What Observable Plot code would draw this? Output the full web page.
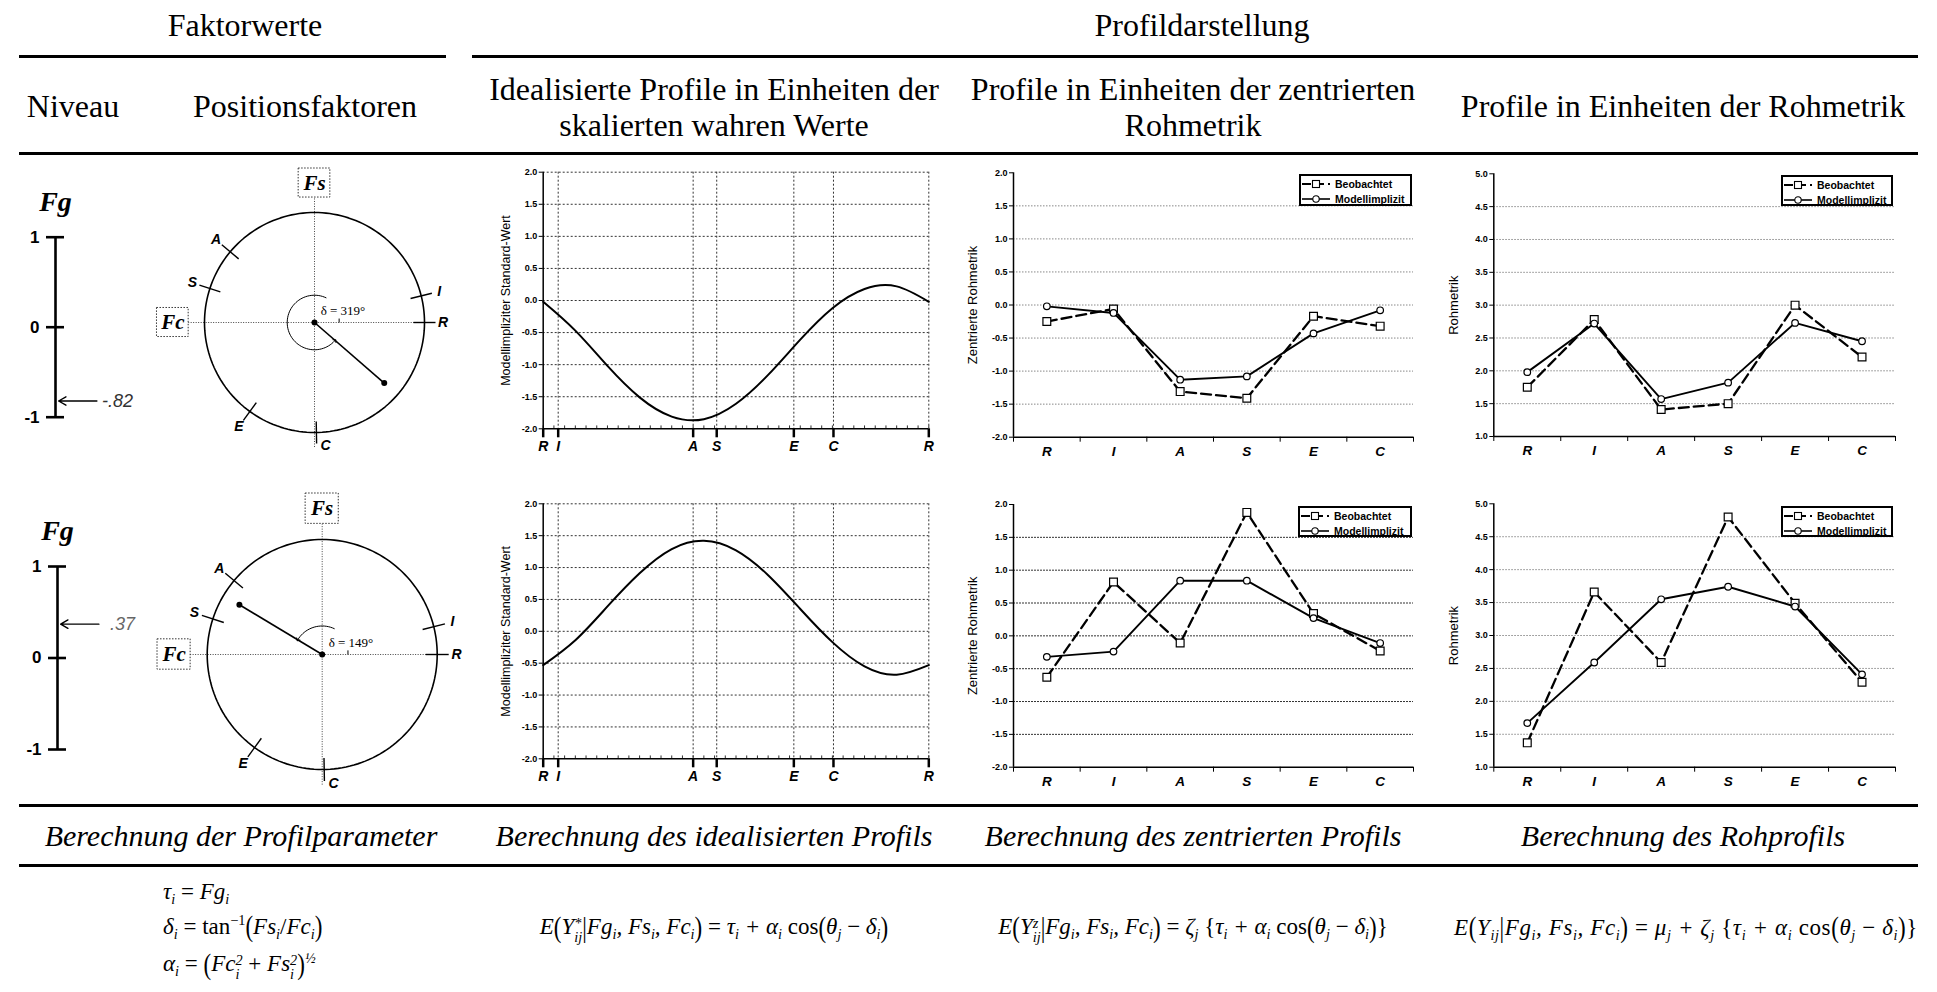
<!DOCTYPE html>
<html>
<head>
<meta charset="utf-8">
<script src="https://cdn.jsdelivr.net/npm/d3@7"></script>
<script src="https://cdn.jsdelivr.net/npm/@observablehq/plot@0.6"></script>
<style>
  body { margin: 0; background: #fff; }
  #root { position: relative; width: 1937px; height: 992px; overflow: hidden; background: #fff;
          font-family: "Liberation Serif", "Times New Roman", serif; color: #000; }
  .hline { position: absolute; height: 3px; background: #000; }
  .hd { position: absolute; font-size: 32px; white-space: nowrap; transform: translate(-50%, -50%);
        text-align: center; line-height: 36px; }
  .ft { position: absolute; font-size: 30px; font-style: italic; white-space: nowrap; transform: translate(-50%, -50%); }
  .fm { position: absolute; font-size: 23px; font-style: italic; white-space: nowrap; line-height: 32px; }
  .fm.c { transform: translate(-50%, -50%); }
  .fm.l { transform: translate(0, -50%); }
  .fm.w { letter-spacing: 0.6px; }
  .fm sub { font-size: 62%; vertical-align: -0.35em; line-height: 0; }
  .fm sup { font-size: 62%; vertical-align: 0.6em; line-height: 0; }
  .fm .up { font-style: normal; }
  .fm .ss { display: inline-flex; flex-direction: column; font-size: 62%; line-height: 1.0; vertical-align: 0.45em; }
  .fm .bp { display: inline-block; transform: scale(1, 1.3); font-style: normal; }
  .legend { position: absolute; border: 2px solid #000; background: #fff; box-sizing: border-box;
            font-family: "Liberation Sans", Arial, sans-serif; font-weight: bold; font-size: 10.5px; }
  .legend .row { position: absolute; left: 1px; height: 12px; display: flex; align-items: center; white-space: nowrap; }
  .legend svg { display: block; margin-right: 5px; }
</style>
</head>
<body>
<div id="root"></div>
<script>
// ---------------- data ----------------
const cats = ["R", "I", "A", "S", "E", "C"];
const thetaDeg = [0, 14, 140, 162, 234, 271];          // RIASEC positions (degrees)
const fgValues = [-0.82, 0.37];                         // Niveau Fg
const deltaDeg = [319, 149];                            // angle delta
const alphaValues = [1.05, 1.05];                       // amplitude
const fgTicks = [-1, 0, 1];

// idealised profile curves, every 30 degrees
const curveTheta = [0, 30, 60, 90, 120, 150, 180, 210, 240, 270, 300, 330, 360];
const curveRow1 = [-0.02, -0.47, -1.02, -1.51, -1.81, -1.85, -1.61, -1.16, -0.61, -0.12, 0.18, 0.22, -0.02];
const curveRow2 = [-0.53, -0.14, 0.39, 0.91, 1.29, 1.42, 1.27, 0.88, 0.35, -0.17, -0.55, -0.68, -0.53];

// centred raw metric
const zObs1 = [-0.25, -0.06, -1.31, -1.41, -0.17, -0.32];
const zMod1 = [-0.02, -0.12, -1.13, -1.08, -0.43, -0.08];
const zObs2 = [-0.63, 0.82, -0.11, 1.88, 0.34, -0.23];
const zMod2 = [-0.32, -0.24, 0.84, 0.84, 0.27, -0.11];
// raw metric
const rawObs1 = [1.75, 2.78, 1.41, 1.50, 3.00, 2.21];
const rawMod1 = [1.98, 2.72, 1.57, 1.82, 2.73, 2.45];
const rawObs2 = [1.37, 3.66, 2.59, 4.80, 3.49, 2.29];
const rawMod2 = [1.67, 2.59, 3.55, 3.74, 3.44, 2.41];

const zTicks = [-2, -1.5, -1, -0.5, 0, 0.5, 1, 1.5, 2];
const zGrid = [-1.5, -1, -0.5, 0, 0.5, 1, 1.5];
const rawTicks = [1, 1.5, 2, 2.5, 3, 3.5, 4, 4.5, 5];
const rawGrid = [1.5, 2, 2.5, 3, 3.5, 4, 4.5];
const sineGrid = [-1.5, -1, -0.5, 0, 0.5, 1, 1.5, 2];
const seriesNames = ["Beobachtet", "Modellimplizit"];
const yLabels = ["Modellimpliziter Standard-Wert", "Zentrierte Rohmetrik", "Rohmetrik"];

// ---------------- helpers ----------------
const root = document.getElementById("root");
const SANS = "Liberation Sans, Arial, sans-serif";
const SERIF = "Liberation Serif, Times New Roman, serif";
const f1 = d => d.toFixed(1);
const rad = a => a * Math.PI / 180;
function put(node, left, top) {
  node.style.position = "absolute";
  node.style.left = left + "px";
  node.style.top = top + "px";
  root.appendChild(node);
}
function html(cls, left, top, inner) {
  const d = document.createElement("div");
  d.className = cls;
  d.innerHTML = inner;
  put(d, left, top);
  return d;
}
const baseStyle = {background: "transparent", overflow: "visible", fontFamily: SANS, color: "#000"};

// ---------------- header / lines ----------------
function hline(x1, x2, y) {
  const d = document.createElement("div");
  d.className = "hline";
  d.style.width = (x2 - x1) + "px";
  put(d, x1, y - 1.5);
}
hline(19, 446, 56);
hline(472, 1918, 56);
hline(19, 1918, 153);
hline(19, 1918, 805);
hline(19, 1918, 865);

html("hd", 245, 25, "Faktorwerte");
html("hd", 1202, 25, "Profildarstellung");
html("hd", 73, 106, "Niveau");
html("hd", 305, 106, "Positionsfaktoren");
html("hd", 714, 107, "Idealisierte Profile in Einheiten der<br>skalierten wahren Werte");
html("hd", 1193, 107, "Profile in Einheiten der zentrierten<br>Rohmetrik");
html("hd", 1683, 106, "Profile in Einheiten der Rohmetrik");

html("ft", 241, 836, "Berechnung der Profilparameter");
html("ft", 714, 836, "Berechnung des idealisierten Profils");
html("ft", 1193, 836, "Berechnung des zentrierten Profils");
html("ft", 1683, 836, "Berechnung des Rohprofils");

// ---------------- formulas ----------------
const ii = '<sub>i</sub>', jj = '<sub>j</sub>';
const cond = 'Fg' + ii + ', Fs' + ii + ', Fc' + ii;
const core = 'τ' + ii + ' + α' + ii + ' <span class="up">cos</span><span class="bp">(</span>θ' + jj + ' <span class="up">−</span> δ' + ii + '<span class="bp">)</span>';
html("fm l", 163, 892, 'τ' + ii + ' <span class="up">=</span> Fg' + ii);
html("fm l", 163, 927, 'δ' + ii + ' <span class="up">= tan<sup>−1</sup></span><span class="bp">(</span>Fs' + ii + '<span class="up">/</span>Fc' + ii + '<span class="bp">)</span>');
html("fm l", 163, 965, 'α' + ii + ' <span class="up">=</span> <span class="bp">(</span>Fc<span class="ss"><span>2</span><span>i</span></span> <span class="up">+</span> Fs<span class="ss"><span>2</span><span>i</span></span><span class="bp">)</span><sup>½</sup>');
html("fm c", 714, 928, 'E<span class="bp">(</span>Y<span class="ss"><span>*</span><span>ij</span></span><span class="bp">|</span>' + cond + '<span class="bp">)</span> <span class="up">=</span> ' + core);
html("fm c", 1193, 928, 'E<span class="bp">(</span>Y<span class="ss"><span>z</span><span>ij</span></span><span class="bp">|</span>' + cond + '<span class="bp">)</span> <span class="up">=</span> ζ' + jj + ' <span class="up">{</span>' + core + '<span class="up">}</span>');
html("fm c w", 1686, 928, 'E<span class="bp">(</span>Y<sub>ij</sub><span class="bp">|</span>' + cond + '<span class="bp">)</span> <span class="up">=</span> μ' + jj + ' + ζ' + jj + ' <span class="up">{</span>' + core + '<span class="up">}</span>');

// ---------------- Fg scale ----------------
function fgChart(k, left, top, height, mLeft, mTop, mBottom, labDx, labColor) {
  const fg = fgValues[k];
  const fmt = d => (d < 0 ? "-" : "") + Math.abs(d).toFixed(2).replace(/^0/, "");
  const svg = Plot.plot({
    width: 150, height, marginLeft: mLeft, marginRight: 150 - mLeft - 18, marginTop: mTop, marginBottom: mBottom,
    x: {domain: [-1, 1], axis: null}, y: {domain: [-1, 1], axis: null},
    style: baseStyle,
    marks: [
      Plot.ruleX([0], {y1: -1, y2: 1, strokeWidth: 2.6}),
      Plot.ruleY(fgTicks, {x1: -1, x2: 1, strokeWidth: 2.6}),
      Plot.text(fgTicks, {x: -1, y: d => d, text: d => String(d), dx: -7, textAnchor: "end",
        fontWeight: "bold", fontSize: 17, fontFamily: SANS}),
      Plot.arrow([fg], {x1: 4.6, y1: d => d, x2: 0.35, y2: d => d, strokeWidth: 1.4, headLength: 9}),
      Plot.text([fg], {x: 4.6, y: d => d, text: fmt, dx: labDx, textAnchor: "start",
        fontStyle: "italic", fontSize: 18, fontFamily: SANS, fill: labColor}),
      Plot.text(["Fg"], {x: 0, y: 1, text: d => d, dy: -35, fontFamily: SERIF, fontWeight: "bold",
        fontStyle: "italic", fontSize: 28})
    ]
  });
  put(svg, left, top);
}
fgChart(0, 0, 170, 270, 46, 66.7, 23.3, 5, "#333");
fgChart(1, 0, 490, 280, 48, 76, 21, 11, "#666");

// ---------------- circles ----------------
function circleChart(k, left, top, width, height, mL, mR, mT, mB) {
  const R = 1.25;
  const ring = d3.range(0, 361, 2).map(a => [R * Math.cos(rad(a)), R * Math.sin(rad(a))]);
  const dd = deltaDeg[k], a = alphaValues[k];
  const arcR = 0.31;
  const arcPts = d3.range(65, dd, 4).map(t => [arcR * Math.cos(rad(t)), arcR * Math.sin(rad(t))]);
  arcPts.push([arcR * Math.cos(rad(dd)), arcR * Math.sin(rad(dd))]);
  const pts = cats.map((c, i) => ({c, t: rad(thetaDeg[i])}));
  const boxes = [{name: "Fs", x: 0, y: 1.585}, {name: "Fc", x: -1.61, y: 0}];
  const tip = [a * Math.cos(rad(dd)), a * Math.sin(rad(dd))];
  const svg = Plot.plot({
    width, height, marginLeft: mL, marginRight: mR, marginTop: mT, marginBottom: mB,
    x: {domain: [-1, 1], axis: null}, y: {domain: [-1, 1], axis: null},
    style: baseStyle,
    marks: [
      Plot.ruleY([0], {x1: -1.43, x2: 1.25, stroke: "#444", strokeDasharray: "1,1.5"}),
      Plot.ruleX([0], {y1: -1.42, y2: 1.42, stroke: "#444", strokeDasharray: "1,1.5"}),
      Plot.line(ring, {strokeWidth: 1.6}),
      Plot.link(pts, {x1: d => 1.125 * Math.cos(d.t), y1: d => 1.125 * Math.sin(d.t),
        x2: d => 1.375 * Math.cos(d.t), y2: d => 1.375 * Math.sin(d.t), strokeWidth: 1.4}),
      Plot.text(pts.filter(d => d.c !== "C"), {x: d => 1.46 * Math.cos(d.t), y: d => 1.46 * Math.sin(d.t),
        text: "c", fontWeight: "bold", fontStyle: "italic", fontSize: 14, fontFamily: SANS}),
      Plot.text(pts.filter(d => d.c === "C"), {x: d => 1.4 * Math.cos(d.t), y: d => 1.4 * Math.sin(d.t),
        text: "c", dx: 9, fontWeight: "bold", fontStyle: "italic", fontSize: 14, fontFamily: SANS}),
      Plot.rect(boxes, {x1: d => d.x - 0.18, x2: d => d.x + 0.18, y1: d => d.y - 0.165, y2: d => d.y + 0.165,
        fill: "white", stroke: "#333", strokeDasharray: "1.5,1.5"}),
      Plot.text(boxes, {x: "x", y: "y", text: "name", fontFamily: SERIF, fontWeight: "bold",
        fontStyle: "italic", fontSize: 21}),
      Plot.line(arcPts, {strokeWidth: 1, markerEnd: "arrow"}),
      Plot.link([tip], {x1: 0, y1: 0, x2: d => d[0], y2: d => d[1], strokeWidth: 1.6}),
      Plot.dot([[0, 0], tip], {r: 3, fill: "black"}),
      Plot.text([`δ = ${dd}°`], {x: 0.07, y: 0.13, text: d => d, textAnchor: "start",
        fontFamily: SERIF, fontSize: 13}),
      Plot.link([0], {x1: 0.28, x2: 0.28, y1: 0, y2: 0.045, strokeWidth: 1})
    ]
  });
  put(svg, left, top);
}
circleChart(0, 150, 160, 320, 300, 76, 68, 74, 50);
circleChart(1, 150, 480, 320, 320, 79.7, 56.3, 82, 54);

// ---------------- idealised sine profiles ----------------
const thetaTicks = [...thetaDeg, 360];
const tickLab = new Map(thetaTicks.map((t, i) => [t, i < cats.length ? cats[i] : cats[0]]));
const minorTicks = d3.range(0, 361, 10);
function sineChart(k, top, mT, mB) {
  const vals = k === 0 ? curveRow1 : curveRow2;
  const data = curveTheta.map((t, i) => ({t, v: vals[i]}));
  const svg = Plot.plot({
    width: 470, height: 320, marginLeft: 62.7, marginRight: 21.7, marginTop: mT, marginBottom: mB,
    x: {domain: [0, 360], axis: null}, y: {domain: [-2, 2], axis: null},
    style: baseStyle,
    marks: [
      Plot.ruleY(sineGrid, {stroke: "#333", strokeDasharray: "2,2", strokeWidth: 1}),
      Plot.ruleX(thetaTicks.slice(1), {stroke: "#333", strokeDasharray: "2,2", strokeWidth: 1}),
      Plot.ruleX(minorTicks, {y1: -2, y2: -1.955, stroke: "#333"}),
      Plot.ruleX([0], {strokeWidth: 1.5}),
      Plot.ruleY([-2], {strokeWidth: 1.5}),
      Plot.axisY({ticks: zTicks, tickSize: 4, tickPadding: 2, tickFormat: f1, fontWeight: "bold",
        fontSize: 9, label: null}),
      Plot.axisX({ticks: thetaTicks, tickSize: 9, strokeWidth: 2.5, tickPadding: 3,
        tickFormat: d => tickLab.get(d), fontWeight: "bold", fontStyle: "italic", fontSize: 14, label: null}),
      Plot.line(data, {x: "t", y: "v", curve: "natural", strokeWidth: 2}),
      Plot.text([yLabels[0]], {frameAnchor: "left", text: d => d, rotate: -90, textAnchor: "middle",
        dx: -37.7, fontSize: 12.5})
    ]
  });
  put(svg, 480, top);
}
sineChart(0, 150, 21.7, 41.7);
sineChart(1, 482, 21.3, 43.7);

// ---------------- observed vs model-implied profiles ----------------
const bounds = [0, 1, 2, 3, 4, 5, 6];
const centers = cats.map((c, i) => i + 0.5);
function profChart({obs, mod, yDomain, yTicks, grid, gridStroke, gridDash, ylab, labDx, left, top, width, height, mL, mR, mT, mB}) {
  const rows = cats.map((c, i) => ({c, p: i + 0.5, obs: obs[i], mod: mod[i]}));
  const svg = Plot.plot({
    width, height, marginLeft: mL, marginRight: mR, marginTop: mT, marginBottom: mB,
    x: {domain: [0, 6], axis: null}, y: {domain: yDomain, axis: null},
    style: baseStyle,
    marks: [
      Plot.ruleY(grid, {stroke: gridStroke, strokeDasharray: gridDash, strokeWidth: 1}),
      Plot.ruleX([0], {strokeWidth: 1.5}),
      Plot.ruleY([yDomain[0]], {strokeWidth: 1.5}),
      Plot.axisY({ticks: yTicks, tickSize: 4, tickPadding: 2, tickFormat: f1, fontWeight: "bold",
        fontSize: 9, label: null}),
      Plot.axisX({ticks: bounds, tickSize: 5, fill: "none", label: null}),
      Plot.axisX({ticks: centers, tickSize: 0, tickPadding: 9, tickFormat: d => cats[Math.floor(d)],
        fontWeight: "bold", fontStyle: "italic", fontSize: 13.5, label: null}),
      Plot.line(rows, {x: "p", y: "obs", strokeWidth: 2.3, strokeDasharray: "10,5"}),
      Plot.line(rows, {x: "p", y: "mod", strokeWidth: 1.9}),
      Plot.dot(rows, {x: "p", y: "obs", symbol: "square", r: 4.4, fill: "white", stroke: "black", strokeWidth: 1.2}),
      Plot.dot(rows, {x: "p", y: "mod", r: 3.3, fill: "white", stroke: "black", strokeWidth: 1.2}),
      Plot.text([ylab], {frameAnchor: "left", text: d => d, rotate: -90, textAnchor: "middle",
        dx: labDx, fontSize: 13})
    ]
  });
  put(svg, left, top);
}
const zBase = {yDomain: [-2, 2], yTicks: zTicks, grid: zGrid, ylab: yLabels[1], labDx: -41,
  left: 950, width: 480, height: 330, mL: 63, mR: 17};
const rBase = {yDomain: [1, 5], yTicks: rawTicks, grid: rawGrid, ylab: yLabels[2], labDx: -40.3,
  left: 1430, width: 507, height: 330, mL: 63.3, mR: 42};
profChart({...zBase, obs: zObs1, mod: zMod1, gridStroke: "#888", gridDash: "1.5,1.5", top: 150, mT: 22.3, mB: 43.3});
profChart({...rBase, obs: rawObs1, mod: rawMod1, gridStroke: "#888", gridDash: "1.5,1.5", top: 150, mT: 23.3, mB: 44});
profChart({...zBase, obs: zObs2, mod: zMod2, gridStroke: "#333", gridDash: "2,1", top: 482, mT: 22, mB: 45.3});
profChart({...rBase, obs: rawObs2, mod: rawMod2, gridStroke: "#888", gridDash: "1.5,1.5", top: 482, mT: 21.3, mB: 45.3});

// ---------------- legends ----------------
function legend(left, top, w, h) {
  const d = document.createElement("div");
  d.className = "legend";
  d.style.width = w + "px";
  d.style.height = h + "px";
  const sym = [
    '<svg width="28" height="10"><line x1="0" y1="5" x2="28" y2="5" stroke="#000" stroke-width="2" stroke-dasharray="9,4"/><rect x="10.5" y="1.5" width="7" height="7" fill="#fff" stroke="#000" stroke-width="1.1"/></svg>',
    '<svg width="28" height="10"><line x1="0" y1="5" x2="28" y2="5" stroke="#000" stroke-width="1.6"/><circle cx="14" cy="5" r="3.2" fill="#fff" stroke="#000" stroke-width="1.1"/></svg>'
  ];
  d.innerHTML = seriesNames.map((n, i) =>
    `<div class="row" style="top:${i === 0 ? 2 : 16.5}px">${sym[i]}<span>${n}</span></div>`).join("");
  put(d, left, top);
}
legend(1299, 174, 113, 32);
legend(1781, 175, 112, 31);
legend(1298, 506, 114, 31);
legend(1781, 506, 112, 31);
</script>
</body>
</html>
